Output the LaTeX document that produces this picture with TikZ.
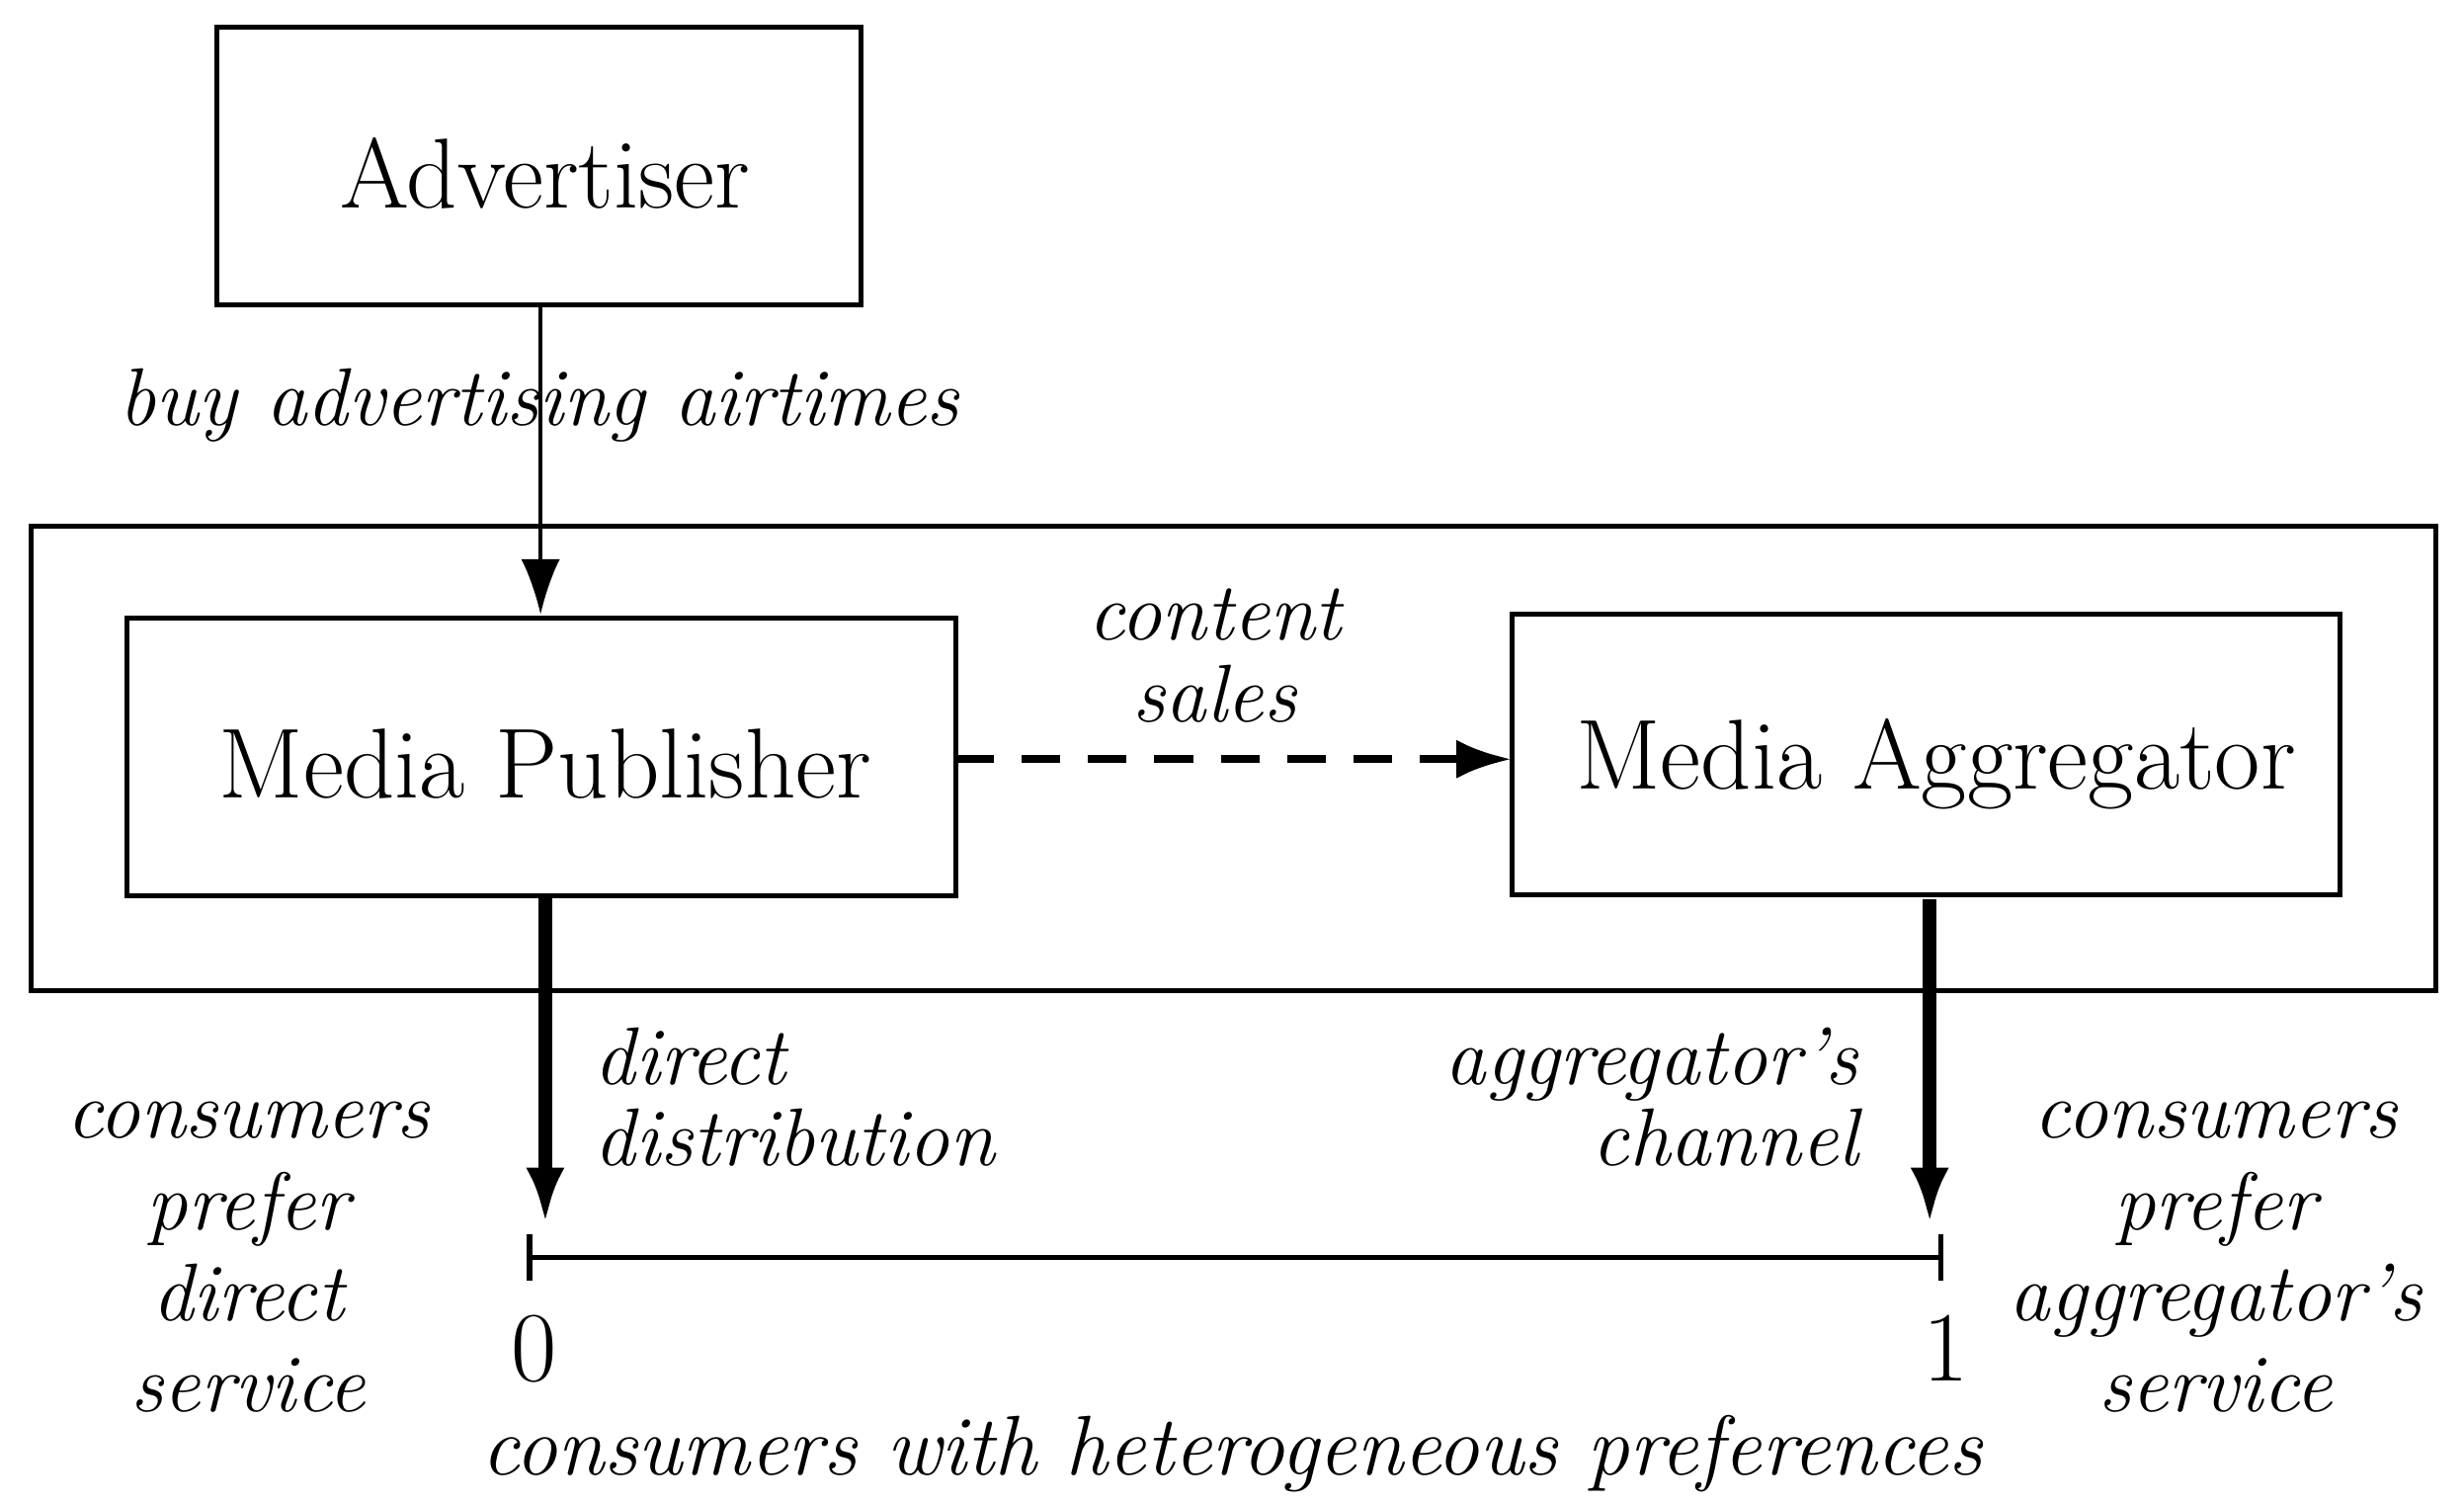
\documentclass[tikz,border=0pt]{standalone}
\usetikzlibrary{arrows.meta}
\begin{document}
\begin{tikzpicture}[x=0.01cm,y=-0.01cm,
 big/.style={font=\fontsize{18}{21}\selectfont},
 lab/.style={font=\fontsize{14.8}{14.8}\selectfont\itshape,align=center},
 side/.style={font=\fontsize{14.8}{16.5}\selectfont\itshape,align=center},
 tip/.style={-{Latex[length=10pt,width=7pt]}}]
\useasboundingbox (0,0) rectangle (1568,957);
\draw[line width=0.9pt] (138,17) rectangle (548,194);
\coordinate (advb) at (344,194);
\node[big] (advt) at (347,110) {Advertiser};
\draw[line width=0.9pt] (20,335) rectangle (1550,630);
\draw[line width=0.9pt] (81,393) rectangle (608,570);
\node[big] (pub) at (347,486) {Media Publisher};
\draw[line width=0.9pt] (962,391) rectangle (1489,569);
\node[big] (agg) at (1232,486) {Media Aggregator};
\coordinate (pubt) at (344,391);
\coordinate (pubr) at (608,483);
\coordinate (aggl) at (962,483);
\coordinate (pubb) at (347,570);
\coordinate (aggb) at (1228,572);
\coordinate (z) at (347,778);
\coordinate (o) at (1228,778);
\draw[tip,line width=0.7pt] (advb) -- (pubt);
\draw[tip,line width=1.5pt,dash pattern=on 7pt off 5pt] (pubr) -- (aggl);
\draw[tip,line width=2.5pt] (pubb) -- (z);
\draw[tip,line width=2.5pt] (aggb) -- (o);
\coordinate (l0) at (337,800);
\coordinate (l1) at (1235,800);
\draw[line width=1pt] (l0) -- (l1);
\draw[line width=1pt] (337,785) -- (337,815) (1235,785) -- (1235,815);
\node[big] (n0) at (340,858) {0};
\node[big] (n1) at (1238,858) {1};
\node[lab] (buy) at (343,258) {buy advertising airtimes};
\node[lab] (cs) at (773,417) {content\\sales};
\node[lab,align=left,anchor=west] (dd) at (366,698) {direct\\distribution};
\node[lab,align=right,anchor=east] (ac) at (1195,698) {aggregator's\\channel};
\node[side] (cl) at (158,800) {consumers\\prefer\\direct\\service};
\node[side] (cr) at (1410,800) {consumers\\prefer\\aggregator's\\service};
\node[lab,font=\fontsize{15.3}{16}\selectfont\itshape] (bot) at (784,925) {consumers with heterogeneous preferences};
\end{tikzpicture}
\end{document}
